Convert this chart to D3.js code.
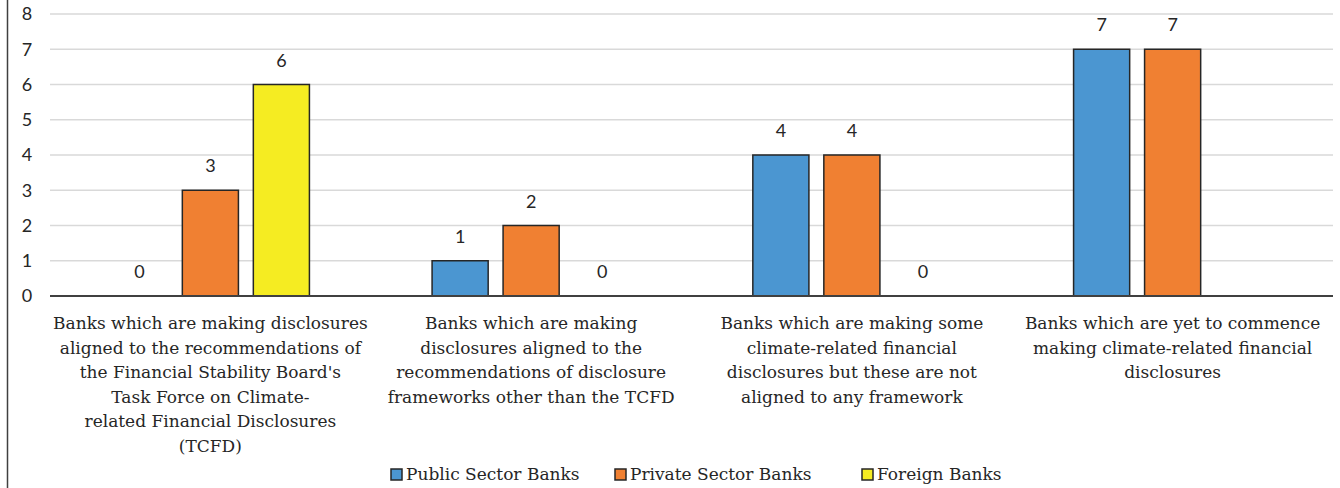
<!DOCTYPE html>
<html>
<head>
<meta charset="utf-8">
<script src="https://cdn.jsdelivr.net/npm/d3@7"></script>
<style>
  html, body { margin: 0; padding: 0; background: #fff; }
  svg { display: block; }
  .cat-label, .legend-label { font-family: "DejaVu Serif", serif; font-size: 17px; fill: #262626; }
  .tick-label, .value-label { font-family: Lato, "Open Sans", sans-serif; font-size: 18px; fill: #262626; }
</style>
</head>
<body>
<svg id="chart" width="1340" height="488"></svg>
<script>
// Bank disclosure categories (each entry is one label line)
const categories = [
  ["Banks which are making disclosures", "aligned to the recommendations of", "the Financial Stability Board's", "Task Force on Climate-", "related Financial Disclosures", "(TCFD)"],
  ["Banks which are making", "disclosures aligned to the", "recommendations of disclosure", "frameworks other than the TCFD"],
  ["Banks which are making some", "climate-related financial", "disclosures but these are not", "aligned to any framework"],
  ["Banks which are yet to commence", "making climate-related financial", "disclosures"]
];
const seriesNames = ["Public Sector Banks", "Private Sector Banks", "Foreign Banks"];
const publicSector = [0, 1, 4, 7];
const privateSector = [3, 2, 4, 7];
const foreignBanks = [6, 0, 0, null];
const yTicks = [0, 1, 2, 3, 4, 5, 6, 7, 8];
const colors = ["#4b96d1", "#f08032", "#f5ec22"];

const seriesValues = [publicSector, privateSector, foreignBanks];

const svg = d3.select("#chart");
const plot = { left: 50, right: 1333, top: 14, bottom: 296 };

const y = d3.scaleLinear().domain([0, 8]).range([plot.bottom, plot.top]);
const x0 = d3.scaleBand().domain(d3.range(categories.length)).range([plot.left, plot.right]).padding(0);
const groupWidth = 213;
const x1 = d3.scaleBand().domain(d3.range(seriesNames.length))
  .range([x0.bandwidth() / 2 - groupWidth / 2, x0.bandwidth() / 2 + groupWidth / 2])
  .paddingInner(0.21).paddingOuter(0.105);

// Frame edge on the left
svg.append("line").attr("x1", 7.5).attr("x2", 7.5).attr("y1", 0).attr("y2", 488)
  .attr("stroke", "#404040").attr("stroke-width", 1.5);

// Gridlines
svg.append("g").selectAll("line").data(yTicks.filter(d => d > 0)).join("line")
  .attr("x1", plot.left).attr("x2", plot.right)
  .attr("y1", d => y(d)).attr("y2", d => y(d))
  .attr("stroke", "#d9d9d9").attr("stroke-width", 1.5);

// Y axis tick labels
const yAxis = d3.axisLeft(y).tickValues(yTicks).tickSize(0).tickPadding(0);
const yg = svg.append("g").attr("transform", "translate(33,0)").call(yAxis);
yg.select(".domain").remove();
yg.selectAll("text").attr("class", "tick-label").attr("text-anchor", "middle").attr("dx", "-6")
  .attr("fill", null).attr("font-family", null).attr("font-size", null);

// Bars
const rows = [];
categories.forEach((c, i) => seriesValues.forEach((vals, s) => {
  if (vals[i] !== null) rows.push({ cat: i, s, v: vals[i] });
}));

const barG = svg.append("g");
barG.selectAll("rect").data(rows.filter(d => d.v > 0)).join("rect")
  .attr("x", d => x0(d.cat) + x1(d.s))
  .attr("y", d => y(d.v))
  .attr("width", x1.bandwidth())
  .attr("height", d => y(0) - y(d.v))
  .attr("fill", d => colors[d.s])
  .attr("stroke", "#262626").attr("stroke-width", 1.5);

// Baseline
svg.append("line").attr("x1", plot.left).attr("x2", plot.right)
  .attr("y1", y(0)).attr("y2", y(0)).attr("stroke", "#404040").attr("stroke-width", 2);

// Value labels
barG.selectAll("text").data(rows).join("text")
  .attr("class", "value-label")
  .attr("text-anchor", "middle")
  .attr("x", d => x0(d.cat) + x1(d.s) + x1.bandwidth() / 2)
  .attr("y", d => y(d.v) - 18)
  .text(d => d.v);

// Category labels
const catG = svg.append("g");
categories.forEach((lines, i) => {
  const t = catG.append("text").attr("class", "cat-label").attr("text-anchor", "middle");
  lines.forEach((ln, j) => {
    t.append("tspan").attr("x", x0(i) + x0.bandwidth() / 2).attr("y", 329 + j * 24.6).text(ln);
  });
});

// Legend
const legendX = [391, 615, 862];
const lg = svg.append("g");
seriesNames.forEach((name, s) => {
  lg.append("rect").attr("x", legendX[s]).attr("y", 469).attr("width", 11).attr("height", 11)
    .attr("fill", colors[s]).attr("stroke", "#262626").attr("stroke-width", 1.5);
  lg.append("text").attr("class", "legend-label").attr("x", legendX[s] + 15).attr("y", 480).text(name);
});
</script>
</body>
</html>
